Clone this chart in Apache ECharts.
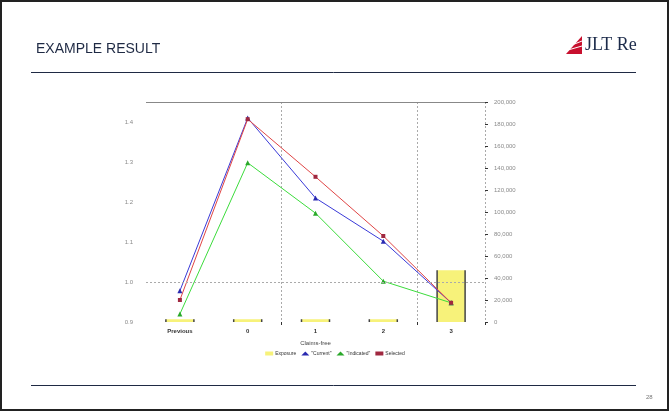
<!DOCTYPE html>
<html>
<head>
<meta charset="utf-8">
<script src="https://cdn.jsdelivr.net/npm/echarts@6/dist/echarts.min.js"></script>
<style>
html,body{margin:0;padding:0;background:#fff;}
#chart{width:670px;height:412px;}
</style>
</head>
<body>
<div id="chart"></div>
<script>
// Categories along the horizontal axis
const categories = ['Previous', '0', '1', '2', '3'];
// Exposure (right axis)
const exposure = [2500, 2500, 2500, 2500, 47000];
// Relativities (left axis)
const current = [0.978, 1.41, 1.21, 1.102, 0.948];
const indicated = [0.92, 1.298, 1.172, 1.002, 0.948];
const selected = [0.955, 1.407, 1.263, 1.115, 0.948];

const chart = echarts.init(document.getElementById('chart'));
const labelFont = { fontFamily: 'Liberation Sans, Arial, sans-serif', fontSize: 6, color: '#8a8a8a' };

chart.setOption({
  animation: false,
  backgroundColor: '#fff',
  title: {
    text: 'EXAMPLE RESULT',
    left: 31, top: 37,
    textStyle: { fontFamily: 'Liberation Sans, Arial, sans-serif', fontSize: 14, fontWeight: 'normal', color: '#1f2a44' }
  },
  legend: {
    bottom: 51, left: 'center',
    itemWidth: 8, itemHeight: 4, itemGap: 5,
    textStyle: { fontFamily: 'Liberation Sans, Arial, sans-serif', fontSize: 5, color: '#333', padding: [0, 0, 0, -3] },
    data: [
      { name: 'Exposure', icon: 'rect' },
      { name: '"Current"', icon: 'triangle' },
      { name: '"Indicated"', icon: 'triangle' },
      { name: 'Selected', icon: 'rect' }
    ]
  },
  grid: { left: 146, right: 185, top: 102, bottom: 90 },
  xAxis: {
    type: 'category',
    data: categories,
    name: 'Claims-free',
    nameLocation: 'middle',
    nameGap: 18,
    nameTextStyle: { fontFamily: 'Liberation Sans, Arial, sans-serif', fontSize: 6, color: '#444' },
    axisLine: { show: false },
    axisTick: { show: true, length: 3, interval: (i) => i === 2 || i === 4, lineStyle: { color: '#333' } },
    axisLabel: { fontFamily: 'Liberation Sans, Arial, sans-serif', fontSize: 6, color: '#333', fontWeight: 'bold', margin: 6 },
    splitLine: { show: true, interval: (i) => i === 2 || i === 4, lineStyle: { color: '#aaa', type: [2, 2], width: 1 } }
  },
  yAxis: [
    {
      type: 'value',
      min: 0.9, max: 1.45, interval: 0.1,
      axisLine: { show: false },
      axisTick: { show: false },
      splitLine: { show: false },
      axisLabel: Object.assign({ showMaxLabel: false, margin: 13, formatter: (v) => v.toFixed(1) }, labelFont)
    },
    {
      type: 'value',
      min: 0, max: 200000, interval: 20000,
      axisLine: { show: false },
      axisTick: { show: true, length: 3, lineStyle: { color: '#333' } },
      splitLine: { show: false },
      axisLabel: Object.assign({ margin: 9, formatter: (v) => v.toLocaleString('en-US') }, labelFont)
    }
  ],
  series: [
    {
      name: 'Exposure',
      type: 'custom',
      yAxisIndex: 1,
      itemStyle: { color: '#f7f27a' },
      encode: { x: 0, y: 1 },
      data: exposure.map((v, i) => [i, v]),
      renderItem: function (params, api) {
        const top = api.coord([api.value(0), api.value(1)]);
        const base = api.coord([api.value(0), 0]);
        const w = 28;
        const x0 = top[0] - w / 2, x1 = top[0] + w / 2;
        return {
          type: 'group',
          children: [
            { type: 'rect', shape: { x: x0, y: top[1], width: w, height: base[1] - top[1] }, style: { fill: '#f7f27a' } },
            { type: 'line', shape: { x1: x0, y1: top[1], x2: x0, y2: base[1] }, style: { stroke: '#444', lineWidth: 1.5 } },
            { type: 'line', shape: { x1: x1, y1: top[1], x2: x1, y2: base[1] }, style: { stroke: '#444', lineWidth: 1.5 } }
          ]
        };
      },
      markLine: {
        silent: true, symbol: 'none', label: { show: false },
        lineStyle: { color: '#888', type: 'solid', width: 1 },
        data: [{ yAxis: 200000 }]
      }
    },
    {
      name: '"Current"', type: 'line', yAxisIndex: 0, data: current,
      symbol: 'triangle', symbolSize: 5,
      lineStyle: { color: '#3a3ad8', width: 1 }, itemStyle: { color: '#2a2ab0' },
      markLine: {
        silent: true, symbol: 'none', label: { show: false },
        lineStyle: { color: '#aaa', type: [2, 2], width: 1 },
        data: [{ yAxis: 1.0 }]
      }
    },
    {
      name: '"Indicated"', type: 'line', yAxisIndex: 0, data: indicated,
      symbol: 'triangle', symbolSize: 5,
      lineStyle: { color: '#3cdc3c', width: 1 }, itemStyle: { color: '#2aa82a' }
    },
    {
      name: 'Selected', type: 'line', yAxisIndex: 0, data: selected,
      symbol: 'rect', symbolSize: 4,
      lineStyle: { color: '#e04545', width: 1 }, itemStyle: { color: '#a02840' }
    }
  ],
  graphic: [
    { type: 'rect', shape: { x: 1, y: 1, width: 667, height: 409 }, style: { fill: 'none', stroke: '#222', lineWidth: 2 }, silent: true },
    { type: 'line', shape: { x1: 31, y1: 72.5, x2: 636, y2: 72.5 }, style: { stroke: '#1f2a44', lineWidth: 1 } },
    { type: 'line', shape: { x1: 31, y1: 385.5, x2: 636, y2: 385.5 }, style: { stroke: '#1f2a44', lineWidth: 1 } },
    { type: 'text', left: 646, top: 394, style: { text: '28', font: '6px Liberation Sans, Arial, sans-serif', fill: '#777' } },
    { type: 'polygon', shape: { points: [[566, 54], [582, 36], [582, 54]] }, style: { fill: '#c8102e' } },
    { type: 'line', shape: { x1: 568, y1: 50, x2: 582, y2: 46 }, style: { stroke: '#fff', lineWidth: 1 } },
    { type: 'line', shape: { x1: 572, y1: 45, x2: 582, y2: 41 }, style: { stroke: '#fff', lineWidth: 1 } },
    { type: 'text', left: 585, top: 36, style: { text: 'JLT Re', font: '18px Liberation Serif, Times New Roman, serif', fill: '#1c2b4a' } }
  ]
});
</script>
</body>
</html>
